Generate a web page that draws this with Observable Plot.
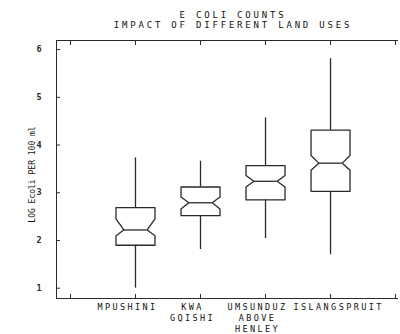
<!DOCTYPE html>
<html><head><meta charset="utf-8">
<script src="https://cdn.jsdelivr.net/npm/d3@7"></script>
<script src="https://cdn.jsdelivr.net/npm/@observablehq/plot@0.6"></script>
<style>
body{margin:0;background:#fff;width:400px;height:334px;overflow:hidden}
#title{height:34px;padding-top:10px;box-sizing:border-box;padding-left:66px;text-align:center;font-family:"DejaVu Sans Mono",monospace;font-size:9px;letter-spacing:2.8px;color:#111}
#title div{line-height:10px;height:10px}
</style>
</head><body>
<div id="title"><div>E COLI COUNTS</div><div>IMPACT OF DIFFERENT LAND USES</div></div>
<div id="chart"></div>
<script>
const categories = ["MPUSHINI", "KWA\nGQISHI", "UMSUNDUZ\nABOVE\nHENLEY", "ISLANGSPRUIT"];
const whiskerLow  = [1.00, 1.81, 2.04, 1.70];
const q1          = [1.90, 2.52, 2.85, 3.03];
const notchLow    = [2.10, 2.66, 3.12, 3.47];
const median      = [2.22, 2.79, 3.24, 3.62];
const notchHigh   = [2.45, 2.91, 3.36, 3.78];
const q3          = [2.69, 3.12, 3.57, 4.31];
const whiskerHigh = [3.73, 3.66, 4.57, 5.81];
const xTicks = [0, 1, 2, 3, 4, 5];
const yTicks = [1, 2, 3, 4, 5, 6];
const yLabel = "LOG Ecoli PER 100 ml";

const W = 0.3, R = 0.6; // box half-width and notch ratio (styling)
const idx = categories.map((_, i) => i);
const last = idx.length - 1;
const boxPts = [];
idx.forEach(i => {
  const p = i + 1;
  const pts = [
    [p - W, q3[i]], [p + W, q3[i]], [p + W, notchHigh[i]], [p + W * R, median[i]],
    [p + W, notchLow[i]], [p + W, q1[i]], [p - W, q1[i]], [p - W, notchLow[i]],
    [p - W * R, median[i]], [p - W, notchHigh[i]], [p - W, q3[i]]
  ];
  pts.forEach(([x, y]) => boxPts.push({k: i, x, y}));
});

const ink = "#2a2a2a";
const labelOpts = {x: i => i + 1, text: i => categories[i], frameAnchor: "bottom", lineAnchor: "top", dy: 4, lineHeight: 1.3, fontSize: 8.5, fill: "#111"};
const chart = Plot.plot({
  width: 400, height: 300,
  marginTop: 6, marginBottom: 36, marginLeft: 56, marginRight: 3,
  style: {fontFamily: "'DejaVu Sans Mono', monospace", fontSize: "8px", color: ink, background: "#fff"},
  x: {type: "linear", domain: [-0.215, 5.03]},
  y: {domain: [0.784, 6.19]},
  marks: [
    Plot.frame({anchor: "left", stroke: ink}),
    Plot.frame({anchor: "top", stroke: ink}),
    Plot.frame({anchor: "bottom", stroke: ink}),
    Plot.axisY(yTicks, {anchor: "left", tickSize: -4, tickPadding: 19, label: null, stroke: ink, fontSize: 8.5, fontWeight: "bold"}),
    Plot.axisX(xTicks, {anchor: "bottom", tickSize: -4, tickFormat: () => "", label: null, stroke: ink}),
    Plot.axisX(xTicks, {anchor: "top", tickSize: -4, tickFormat: () => "", label: null, stroke: ink}),
    Plot.ruleX(idx, {x: i => i + 1, y1: i => q3[i], y2: i => whiskerHigh[i], stroke: ink, strokeWidth: 1.3}),
    Plot.ruleX(idx, {x: i => i + 1, y1: i => whiskerLow[i], y2: i => q1[i], stroke: ink, strokeWidth: 1.3}),
    Plot.line(boxPts, {x: "x", y: "y", z: "k", stroke: ink, strokeWidth: 1.3, strokeLinejoin: "round"}),
    Plot.ruleY(idx, {y: i => median[i], x1: i => i + 1 - W * R, x2: i => i + 1 + W * R, stroke: ink, strokeWidth: 1.3}),
    Plot.text(idx.filter(i => i < last), {...labelOpts, textAnchor: "middle", dx: -8}),
    Plot.text(idx.filter(i => i === last), {...labelOpts, textAnchor: "start", dx: -37}),
    Plot.text([yLabel], {frameAnchor: "left", textAnchor: "middle", rotate: -90, dx: -24, dy: 5, fontSize: 8, fill: "#111"})
  ]
});
// letter spacing for the category labels (plotter-style lettering)
const flat = categories.map(c => c.replace(/\n/g, ""));
chart.querySelectorAll("text").forEach(t => {
  if (flat.includes(t.textContent.replace(/\s/g, ""))) t.style.letterSpacing = "2.4px";
});
document.getElementById("chart").appendChild(chart);
</script>
</body></html>
